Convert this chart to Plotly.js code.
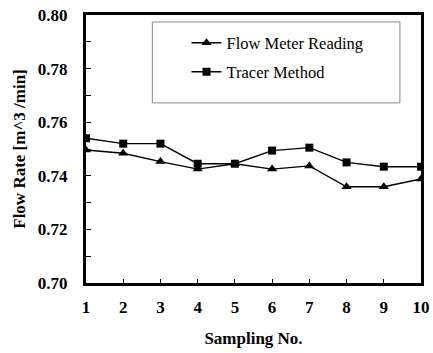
<!DOCTYPE html>
<html><head><meta charset="utf-8">
<script src="https://cdn.plot.ly/plotly-3.0.1.min.js"></script>
<style>html,body{margin:0;padding:0;background:#fff}#chart{width:433px;height:353px}</style>
</head><body><div id="chart"></div>
<script>
const samplingNo = [1,2,3,4,5,6,7,8,9,10];
const flowMeter = [0.7496,0.7484,0.7453,0.7425,0.7445,0.7425,0.7437,0.7359,0.7359,0.7388];
const tracer = [0.7540,0.7520,0.7520,0.7445,0.7445,0.7494,0.7505,0.7450,0.7434,0.7434];
const seriesNames = ['Flow Meter Reading','Tracer Method'];
const yTicks = [0.70,0.72,0.74,0.76,0.78,0.80];

const serif = '"Liberation Serif", "Times New Roman", serif';
const traces = [
 {x: samplingNo, y: flowMeter, name: seriesNames[0], mode:'lines+markers', legend:'legend',
  line:{color:'#000', width:1.4}, marker:{symbol:'triangle-up', size:9, color:'#000'}},
 {x: samplingNo, y: tracer, name: seriesNames[1], mode:'lines+markers', legend:'legend2',
  line:{color:'#000', width:1.4}, marker:{symbol:'square', size:8, color:'#000'}}
];
const legFont = {family: serif, size: 16.5, color:'#000'};
const layout = {
 width:433, height:353,
 margin:{l:86, r:12, t:15, b:70},
 paper_bgcolor:'#fff', plot_bgcolor:'#fff',
 showlegend:true,
 legend:{x:0.3, y:0.8955, xanchor:'left', yanchor:'middle', bgcolor:'rgba(0,0,0,0)', font:legFont, itemwidth:30},
 legend2:{x:0.3, y:0.787, xanchor:'left', yanchor:'middle', bgcolor:'rgba(0,0,0,0)', font:legFont, itemwidth:30},
 xaxis:{range:[1,10], tickvals: samplingNo, ticktext: samplingNo.map(v=>'<b>'+v+'</b>'),
  ticks:'inside', ticklen:4, tickwidth:1, tickcolor:'#000',
  showline:true, linewidth:3, linecolor:'#000', mirror:true, showgrid:false, zeroline:false,
  tickfont:{family:serif, size:17, color:'#000'}, ticklabelstandoff:7,
  title:{text:'<b>Sampling No.</b>', font:{family:serif, size:17, color:'#000'}, standoff:16}},
 yaxis:{range:[0.70,0.80], tickvals: yTicks, ticktext: yTicks.map(v=>'<b>'+v.toFixed(2)+'</b>'),
  ticks:'inside', ticklen:5, tickwidth:1, tickcolor:'#000',
  minor:{dtick:0.01, ticks:'inside', ticklen:5, tickwidth:1, tickcolor:'#000', showgrid:false},
  showline:true, linewidth:3, linecolor:'#000', mirror:true, showgrid:false, zeroline:false,
  tickfont:{family:serif, size:17, color:'#000'}, ticklabelstandoff:12,
  title:{text:'<b>Flow Rate [m^3 /min]</b>', font:{family:serif, size:17, color:'#000'}, standoff:8}},
 shapes:[{type:'rect', xref:'paper', yref:'paper', x0:0.198, x1:0.937, y0:0.672, y1:0.974,
  line:{color:'#888', width:1}, fillcolor:'rgba(0,0,0,0)', layer:'below'}]
};
Plotly.newPlot('chart', traces, layout, {staticPlot:true, displayModeBar:false});
</script></body></html>
